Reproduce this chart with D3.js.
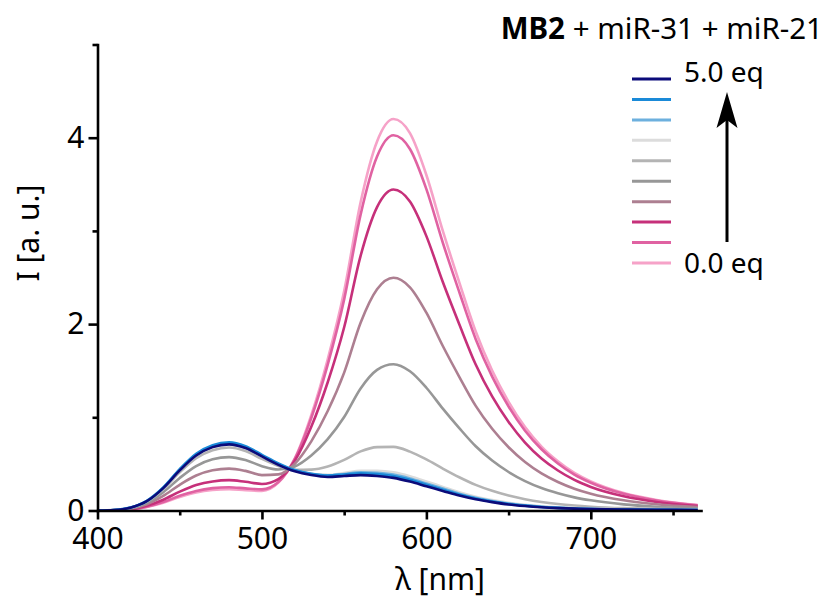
<!DOCTYPE html>
<html>
<head lang="en">
    <meta charset="UTF-8">
    <title>MB2 + miR-31 + miR-21 titration</title>
    <script src="https://cdn.jsdelivr.net/npm/d3@7/dist/d3.min.js"></script>
    <style>
        body { margin: 0; background: #fff; }
        text { font-family: "Noto Sans", "Open Sans", sans-serif; fill: #000; }
        .axis path, .axis line { stroke: #000; stroke-width: 2.6px; }
        .axis text { font-size: 30px; }
        .curve { fill: none; stroke-width: 2.6px; stroke-linejoin: round; }
    </style>
</head>
<body>
<script>

    // wavelength grid (nm)
    var wavelengths = [400, 410, 420, 430, 440, 450, 460, 470, 480, 490,
        500, 510, 520, 530, 540, 550, 560, 570, 580, 590,
        600, 610, 620, 630, 640, 650, 660, 670, 680, 690,
        700, 720, 740, 765];

    // emission spectra, one per titration step
    var eq50 = [0, 0.005, 0.03, 0.10, 0.24, 0.43, 0.59, 0.68, 0.71, 0.67,
        0.58, 0.49, 0.42, 0.38, 0.36, 0.37, 0.38, 0.37, 0.35, 0.31,
        0.26, 0.21, 0.16, 0.12, 0.09, 0.065, 0.048, 0.035, 0.026, 0.02,
        0.015, 0.01, 0.008, 0.006];
    var eq45 = [0, 0.005, 0.031, 0.103, 0.247, 0.443, 0.608, 0.70, 0.731, 0.69,
        0.597, 0.505, 0.434, 0.394, 0.375, 0.387, 0.399, 0.39, 0.37, 0.329,
        0.276, 0.223, 0.171, 0.128, 0.096, 0.07, 0.052, 0.038, 0.028, 0.022,
        0.016, 0.011, 0.008, 0.006];
    var eq40 = [0, 0.005, 0.03, 0.102, 0.244, 0.437, 0.599, 0.69, 0.721, 0.68,
        0.589, 0.498, 0.429, 0.392, 0.377, 0.392, 0.409, 0.404, 0.385, 0.344,
        0.29, 0.235, 0.18, 0.136, 0.102, 0.074, 0.055, 0.04, 0.03, 0.023,
        0.017, 0.011, 0.009, 0.007];
    var eq35 = [0, 0.005, 0.03, 0.10, 0.24, 0.43, 0.59, 0.68, 0.71, 0.67,
        0.581, 0.492, 0.426, 0.393, 0.382, 0.403, 0.427, 0.426, 0.41, 0.368,
        0.312, 0.253, 0.195, 0.148, 0.112, 0.082, 0.061, 0.045, 0.034, 0.026,
        0.02, 0.013, 0.01, 0.007];
    var eq30 = [0, 0.005, 0.029, 0.096, 0.229, 0.41, 0.562, 0.647, 0.676, 0.638,
        0.554, 0.478, 0.436, 0.439, 0.472, 0.543, 0.634, 0.68, 0.683, 0.632,
        0.548, 0.45, 0.357, 0.275, 0.211, 0.16, 0.121, 0.091, 0.069, 0.053,
        0.041, 0.025, 0.017, 0.011];
    var eq25 = [0, 0.004, 0.024, 0.083, 0.196, 0.349, 0.477, 0.549, 0.573, 0.541,
        0.476, 0.44, 0.473, 0.59, 0.765, 1.003, 1.31, 1.509, 1.57, 1.494,
        1.317, 1.093, 0.884, 0.689, 0.536, 0.413, 0.316, 0.241, 0.185, 0.141,
        0.109, 0.066, 0.041, 0.023];
    var eq20 = [0, 0.003, 0.019, 0.067, 0.156, 0.276, 0.375, 0.431, 0.449, 0.425,
        0.38, 0.388, 0.502, 0.742, 1.067, 1.479, 2.014, 2.373, 2.497, 2.395,
        2.122, 1.765, 1.435, 1.123, 0.877, 0.679, 0.52, 0.398, 0.306, 0.234,
        0.18, 0.109, 0.067, 0.036];
    var eq15 = [0, 0.002, 0.013, 0.051, 0.116, 0.202, 0.273, 0.312, 0.326, 0.308,
        0.285, 0.337, 0.534, 0.898, 1.376, 1.966, 2.733, 3.255, 3.444, 3.315,
        2.944, 2.451, 1.998, 1.566, 1.224, 0.95, 0.729, 0.558, 0.429, 0.328,
        0.253, 0.153, 0.092, 0.049];
    var eq10 = [0, 0.002, 0.01, 0.041, 0.091, 0.158, 0.21, 0.24, 0.25, 0.237,
        0.227, 0.306, 0.553, 0.993, 1.566, 2.265, 3.175, 3.798, 4.026, 3.879,
        3.448, 2.873, 2.344, 1.838, 1.437, 1.116, 0.856, 0.657, 0.505, 0.386,
        0.298, 0.179, 0.108, 0.057];
    var eq00 = [0, 0.002, 0.009, 0.038, 0.084, 0.145, 0.193, 0.22, 0.229, 0.217,
        0.211, 0.299, 0.56, 1.023, 1.623, 2.355, 3.308, 3.96, 4.2, 4.049,
        3.6, 2.999, 2.448, 1.92, 1.501, 1.166, 0.895, 0.686, 0.528, 0.403,
        0.312, 0.187, 0.113, 0.059];

    // top of legend first (5.0 eq) down to 0.0 eq
    var series = [eq50, eq45, eq40, eq35, eq30, eq25, eq20, eq15, eq10, eq00];
    var colors = ["#0b0b7a", "#1a8ad8", "#6db0de", "#dcdcdc", "#b4b4b4",
        "#979797", "#ad7f91", "#c6307a", "#e062a2", "#f6a2c8"];

    var yMajor = [0, 2, 4], yMinor = [1, 3, 5];
    var xMajor = [400, 500, 600, 700], xMinor = [450, 550, 650, 750];

    var width = 830, height = 600;

    var svg = d3.select("body").append("svg")
            .attr("width", width)
            .attr("height", height);

    var x = d3.scaleLinear().domain([400, 767]).range([97.5, 701]);
    var y = d3.scaleLinear().domain([0, 5]).range([510.5, 44.5]);

    var line = d3.line()
            .x(function(d) { return x(d[0]); })
            .y(function(d) { return y(d[1]); })
            .curve(d3.curveMonotoneX);

    // curves: 0.0 eq drawn first, 5.0 eq on top
    svg.append("g").selectAll("path")
            .data(series.slice().reverse().map(function(s, i) {
                return { vals: s, color: colors[colors.length - 1 - i] };
            }))
            .enter().append("path")
            .attr("class", "curve")
            .attr("stroke", function(d) { return d.color; })
            .attr("d", function(d) {
                return line(wavelengths.map(function(w, j) { return [w, d.vals[j]]; }));
            });

    // axes
    var gx = svg.append("g").attr("class", "axis")
            .attr("transform", "translate(0," + y(0) + ")");
    gx.call(d3.axisBottom(x).tickValues(xMajor).tickSize(9).tickPadding(8).tickSizeOuter(0)
            .tickFormat(d3.format("d")));
    gx.append("g").call(d3.axisBottom(x).tickValues(xMinor).tickSize(5).tickFormat(""))
            .select(".domain").remove();

    var gy = svg.append("g").attr("class", "axis")
            .attr("transform", "translate(" + x(400) + ",0)");
    gy.call(d3.axisLeft(y).tickValues(yMajor).tickSize(9).tickPadding(4).tickSizeOuter(0)
            .tickFormat(d3.format("d")));
    gy.append("g").call(d3.axisLeft(y).tickValues(yMinor).tickSize(5).tickFormat(""))
            .select(".domain").remove();
    svg.selectAll(".axis .domain").attr("stroke-linecap", "square");

    // axis titles
    svg.append("text")
            .attr("x", 440).attr("y", 590)
            .attr("text-anchor", "middle")
            .style("font-size", "30px")
            .text("λ [nm]");

    svg.append("text")
            .attr("transform", "translate(39,233) rotate(-90)")
            .attr("text-anchor", "middle")
            .style("font-size", "30px")
            .text("I [a. u.]");

    // legend
    var title = svg.append("text")
            .attr("x", 823).attr("y", 39)
            .attr("text-anchor", "end")
            .style("font-size", "29.5px");
    title.append("tspan").style("font-weight", "bold").text("MB2");
    title.append("tspan").text(" + miR-31 + miR-21");

    var legY = d3.scaleLinear().domain([0, 9]).range([79, 263]);

    svg.append("g").selectAll("line")
            .data(colors)
            .enter().append("line")
            .attr("x1", 632).attr("x2", 671)
            .attr("y1", function(d, i) { return legY(i); })
            .attr("y2", function(d, i) { return legY(i); })
            .attr("stroke", function(d) { return d; })
            .attr("stroke-width", 3);

    svg.append("text").attr("x", 684).attr("y", 82)
            .style("font-size", "28px").text("5.0 eq");
    svg.append("text").attr("x", 684).attr("y", 273)
            .style("font-size", "28px").text("0.0 eq");

    // arrow
    svg.append("line")
            .attr("x1", 727).attr("x2", 727)
            .attr("y1", 242).attr("y2", 115)
            .attr("stroke", "#000").attr("stroke-width", 3);
    svg.append("path")
            .attr("d", "M727,92 L737.5,128 L727,120 L716.5,128 Z")
            .attr("fill", "#000");

</script>
</body>
</html>
